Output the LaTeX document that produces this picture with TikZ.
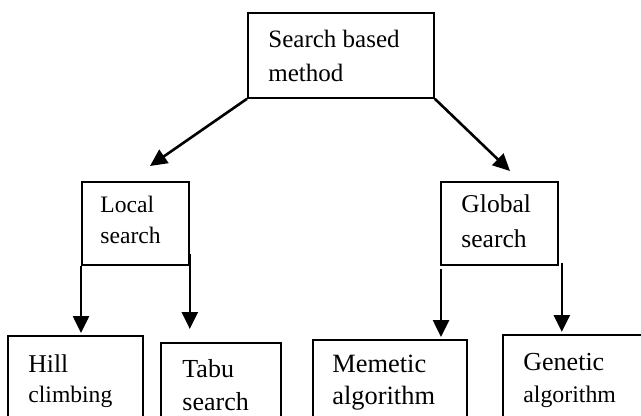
\documentclass[tikz,border=0pt]{standalone}
\usepackage{fontspec}
\setmainfont{Liberation Serif}
\usetikzlibrary{arrows.meta}
\begin{document}
\begin{tikzpicture}[x=0.5pt,y=-0.5pt,
    box/.style={draw,line width=0.9pt,inner sep=0pt,anchor=north west},
    txt/.style={inner sep=0pt,anchor=base west,align=left},
    arr/.style={line width=1.3pt,-{Triangle[length=8.5pt,width=8pt]}}]
    \clip (0,0) rectangle (641,416);
    % the boxes, placed by their top left corner
    \node[box,minimum width=93pt,minimum height=42.5pt] (top) at (247,12) {};
    \node[box,minimum width=53.5pt,minimum height=41.5pt] (local) at (81,181) {};
    \node[box,minimum width=58.5pt,minimum height=41.5pt] (global) at (440,181) {};
    \node[box,minimum width=67.5pt,minimum height=45pt] (hill) at (7,335) {};
    \node[box,minimum width=60pt,minimum height=45pt] (tabu) at (160,342) {};
    \node[box,minimum width=77pt,minimum height=45pt] (memetic) at (312,339) {};
    \node[box,minimum width=79pt,minimum height=45pt] (genetic) at (502,334) {};
    % texts, placed by the baseline of their last line
    \node[txt,font=\fontsize{12.5}{17}\selectfont] (toptxt) at (268,82) {Search based\\method};
    \node[txt,font=\fontsize{11.8}{15.5}\selectfont] (localtxt) at (100,244) {Local\\search};
    \node[txt,font=\fontsize{12.8}{17.5}\selectfont] (globaltxt) at (461,248) {Global\\search};
    \node[txt,font=\fontsize{12.8}{15}\selectfont] (hilltxt) at (28,402) {Hill\\\fontsize{11.8}{15}\selectfont climbing};
    \node[txt,font=\fontsize{13}{16.5}\selectfont] (tabutxt) at (182,410) {Tabu\\search};
    \node[txt,font=\fontsize{13.2}{16}\selectfont] (memetictxt) at (332,404) {Memetic\\algorithm};
    \node[txt,font=\fontsize{13}{16}\selectfont] (genetictxt) at (523,402) {Genetic\\\fontsize{11.9}{16}\selectfont algorithm};
    % arrows
    \coordinate (ltip) at (150,166);
    \coordinate (rtip) at (510,171);
    \draw[arr] (top.south west) -- (ltip);
    \draw[arr] (top.south east) -- (rtip);
    \draw[arr,shorten >=1pt] (local.south west) -- (local.south west |- hill.north);
    \draw[arr,shorten >=0.5pt] ([yshift=6pt]local.south east) -- ([yshift=6pt]local.south east |- tabu.north);
    \draw[arr,shorten >=1pt] ([xshift=0.5pt,yshift=-1.5pt]global.south west) -- ([xshift=0.5pt]global.south west |- memetic.north);
    \draw[arr,shorten >=1pt] ([xshift=1.5pt,yshift=1.5pt]global.south east) -- ([xshift=1.5pt]global.south east |- genetic.north);
\end{tikzpicture}
\end{document}
